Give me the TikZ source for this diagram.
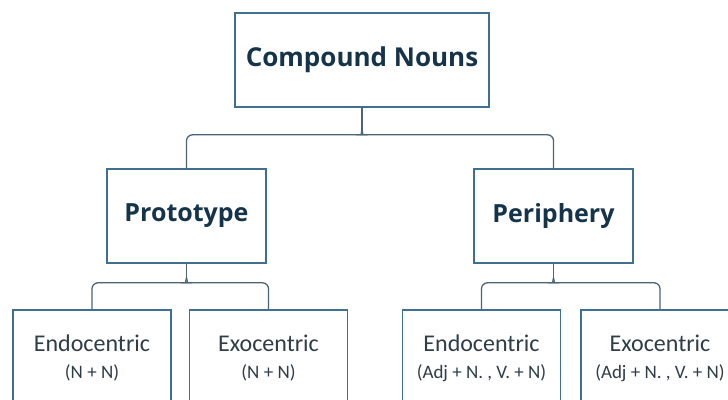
\documentclass[tikz,border=0pt]{standalone}
\usepackage{fontspec}
\setmainfont{Carlito}
\newfontfamily\headfont{Open Sans}
\usetikzlibrary{positioning}
\definecolor{boxline}{HTML}{3F6F91}
\definecolor{linkline}{HTML}{4B6576}
\definecolor{headtext}{HTML}{15344A}
\definecolor{bodytext}{HTML}{2F3D47}
\tikzset{
  box/.style     = {draw=boxline,line width=1.6pt,fill=white,inner sep=0pt},
  headbox/.style = {box,minimum height=94pt,font=\headfont\bfseries\fontsize{25}{30}\selectfont,text=headtext},
  leafbox/.style = {box,anchor=north,minimum width=158pt,minimum height=97pt,
                    align=center,text=bodytext,font=\fontsize{24}{28}\selectfont},
  link/.style    = {draw=linkline,line width=1.3pt}
}
\newcommand{\combo}[1]{\\[-1pt]{\fontsize{19}{22}\selectfont #1}}

\begin{document}
\begin{tikzpicture}[x=1pt,y=1pt]
  \useasboundingbox (0,0) rectangle (728,399);
  \fill[white] (0,0) rectangle (728,399);
  \clip (0,0) rectangle (728,399);
  % tree of boxes
  \node[headbox,minimum width=254pt,font=\headfont\bfseries\fontsize{26}{30}\selectfont]
       (root) at (362,339) {Compound Nouns};
  \node[headbox,minimum width=159pt] (proto) at (186.5,183) {Prototype};
  \node[headbox,minimum width=159pt] (peri)  at (553.5,183) {Periphery};
  \node[leafbox] (pendo) at (92,90)    {Endocentric\combo{(N + N)}};
  \node[leafbox] (pexo)  at (268.5,90) {Exocentric\combo{(N + N)}};
  \node[leafbox] (rendo) at (481.5,90) {Endocentric\combo{(Adj + N. , V. + N)}};
  \node[leafbox] (rexo)  at (660,90)   {Exocentric\combo{(Adj + N. , V. + N)}};
  % brace-like connectors
  \draw[link] (root.south) -- ++(0,-22) coordinate (rtip);
  \draw[link,rounded corners=6pt] (rtip) to[out=-90,in=0] ++(-5,-5) -| (proto.north);
  \draw[link,rounded corners=6pt] (rtip) to[out=-90,in=180] ++(5,-5) -| (peri.north);
  \foreach \p/\l/\r in {proto/pendo/pexo, peri/rendo/rexo}{
    \draw[link] (\p.south) -- ++(0,-14) coordinate (tip);
    \draw[link,rounded corners=6pt] (tip) to[out=-90,in=0] ++(-5,-5) -| (\l.north);
    \draw[link,rounded corners=6pt] (tip) to[out=-90,in=180] ++(5,-5) -| (\r.north);
  }
\end{tikzpicture}
\end{document}
